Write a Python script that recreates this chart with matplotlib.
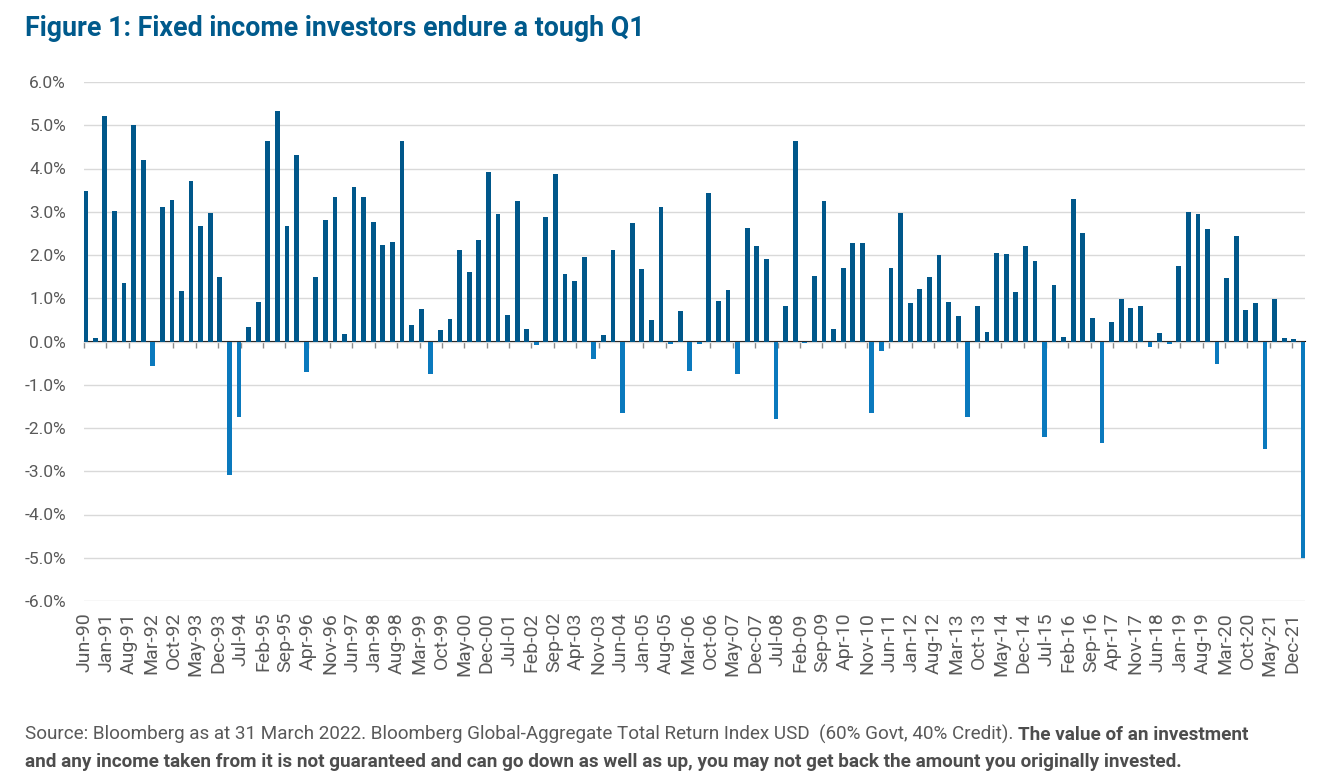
import numpy as np
import pandas as pd
import matplotlib
matplotlib.use("Agg")
import matplotlib.pyplot as plt

plt.rcParams['font.family'] = ['Roboto', 'DejaVu Sans']

# quarterly total return, Bloomberg Global-Aggregate (%), Jun-90 .. Mar-22
quarters = pd.period_range('1990Q2', '2022Q1', freq='Q')
returns = [
    3.49, 0.09, 5.22, 3.02, 1.35, 5.01, 4.20, -0.56, 3.10, 3.27,
    1.17, 3.71, 2.66, 2.98, 1.48, -3.08, -1.75, 0.33, 0.91, 4.64,
    5.33, 2.66, 4.31, -0.71, 1.50, 2.81, 3.35, 0.17, 3.58, 3.33,
    2.77, 2.23, 2.29, 4.63, 0.37, 0.76, -0.75, 0.27, 0.52, 2.12,
    1.61, 2.35, 3.93, 2.94, 0.62, 3.25, 0.30, -0.08, 2.89, 3.88,
    1.57, 1.39, 1.96, -0.40, 0.15, 2.11, -1.65, 2.73, 1.67, 0.50,
    3.11, -0.05, 0.70, -0.69, -0.06, 3.43, 0.94, 1.18, -0.75, 2.63,
    2.21, 1.90, -1.79, 0.83, 4.64, -0.04, 1.51, 3.24, 0.30, 1.70,
    2.27, 2.27, -1.65, -0.21, 1.69, 2.98, 0.88, 1.21, 1.50, 2.01,
    0.91, 0.58, -1.74, 0.83, 0.23, 2.04, 2.02, 1.14, 2.20, 1.85,
    -2.21, 1.31, 0.10, 3.29, 2.51, 0.54, -2.35, 0.45, 0.98, 0.78,
    0.81, -0.13, 0.20, -0.06, 1.75, 3.00, 2.94, 2.61, -0.51, 1.46,
    2.43, 0.73, 0.90, -2.49, 0.98, 0.09, 0.06, -5.00,
]
tick_labels = [
    'Jun-90', 'Jan-91', 'Aug-91', 'Mar-92', 'Oct-92', 'May-93', 'Dec-93',
    'Jul-94', 'Feb-95', 'Sep-95', 'Apr-96', 'Nov-96', 'Jun-97', 'Jan-98',
    'Aug-98', 'Mar-99', 'Oct-99', 'May-00', 'Dec-00', 'Jul-01', 'Feb-02',
    'Sep-02', 'Apr-03', 'Nov-03', 'Jun-04', 'Jan-05', 'Aug-05', 'Mar-06',
    'Oct-06', 'May-07', 'Dec-07', 'Jul-08', 'Feb-09', 'Sep-09', 'Apr-10',
    'Nov-10', 'Jun-11', 'Jan-12', 'Aug-12', 'Mar-13', 'Oct-13', 'May-14',
    'Dec-14', 'Jul-15', 'Feb-16', 'Sep-16', 'Apr-17', 'Nov-17', 'Jun-18',
    'Jan-19', 'Aug-19', 'Mar-20', 'Oct-20', 'May-21', 'Dec-21',
]
y_ticks = [-6, -5, -4, -3, -2, -1, 0, 1, 2, 3, 4, 5, 6]

# x in months since Jun-90 (date axis, labels every 7 months)
start = quarters[0].asfreq('M', how='end')
months = np.array([(q.asfreq('M', how='end') - start).n for q in quarters])
tick_pos = np.arange(len(tick_labels)) * 7 - 0.5
vals = np.array(returns)

pos_col = '#00578a'
neg_col = '#0a79bd'
grey = '#595959'

fig = plt.figure(figsize=(13.27, 7.81), dpi=100)
ax = fig.add_axes([84/1327, 1 - 601/781, (1305-84)/1327, (601-82)/781])

colors = [pos_col if v >= 0 else neg_col for v in vals]
ax.bar(months, vals, width=1.5, color=colors, zorder=2)

ax.set_xlim(-0.5, 381.5)
ax.set_ylim(-6, 6)
ax.set_yticks(y_ticks)
ax.set_yticklabels(['%.1f%%' % t for t in y_ticks])
ax.set_xticks(tick_pos)
ax.set_xticklabels(tick_labels, rotation=90)
ax.tick_params(axis='y', length=0, pad=13, labelsize=12.5, labelcolor=grey)
ax.tick_params(axis='x', length=0, pad=8, labelsize=14, labelcolor=grey)
ax.grid(axis='y', color='#d9d9d9', linewidth=1, zorder=0)
ax.set_axisbelow(True)
for s in ax.spines.values():
    s.set_visible(False)

# zero line with small date ticks pointing down
zax = ax.secondary_xaxis(0.5)
zax.xaxis.set_ticks_position('bottom')
zax.set_xticks(tick_pos)
zax.set_xticklabels([])
zax.spines['bottom'].set_color('#8c8c8c')
zax.spines['bottom'].set_linewidth(1.2)
zax.tick_params(axis='x', direction='out', length=4, width=1, color='#8c8c8c')

fig.text(25/1327, 1 - 28/781, 'Figure 1: Fixed income investors endure a tough Q1',
         fontsize=19.3, fontweight='bold', color='#005a8c', va='center', ha='left')

t1 = fig.text(25/1327, 1 - 744/781,
              'Source: Bloomberg as at 31 March 2022. Bloomberg Global-Aggregate Total Return Index USD  (60% Govt, 40% Credit). ',
              fontsize=13.6, color=grey, va='bottom', ha='left')
ax.annotate('The value of an investment', xy=(1, 0), xycoords=t1,
            fontsize=13.6, fontweight='bold', color='#4d4d4d', va='bottom', ha='left',
            annotation_clip=False)
fig.text(25/1327, 1 - 771/781,
         'and any income taken from it is not guaranteed and can go down as well as up, you may not get back the amount you originally invested.',
         fontsize=13.6, fontweight='bold', color='#4d4d4d', va='bottom', ha='left')

fig.savefig('out.png', dpi=100, facecolor='white')
